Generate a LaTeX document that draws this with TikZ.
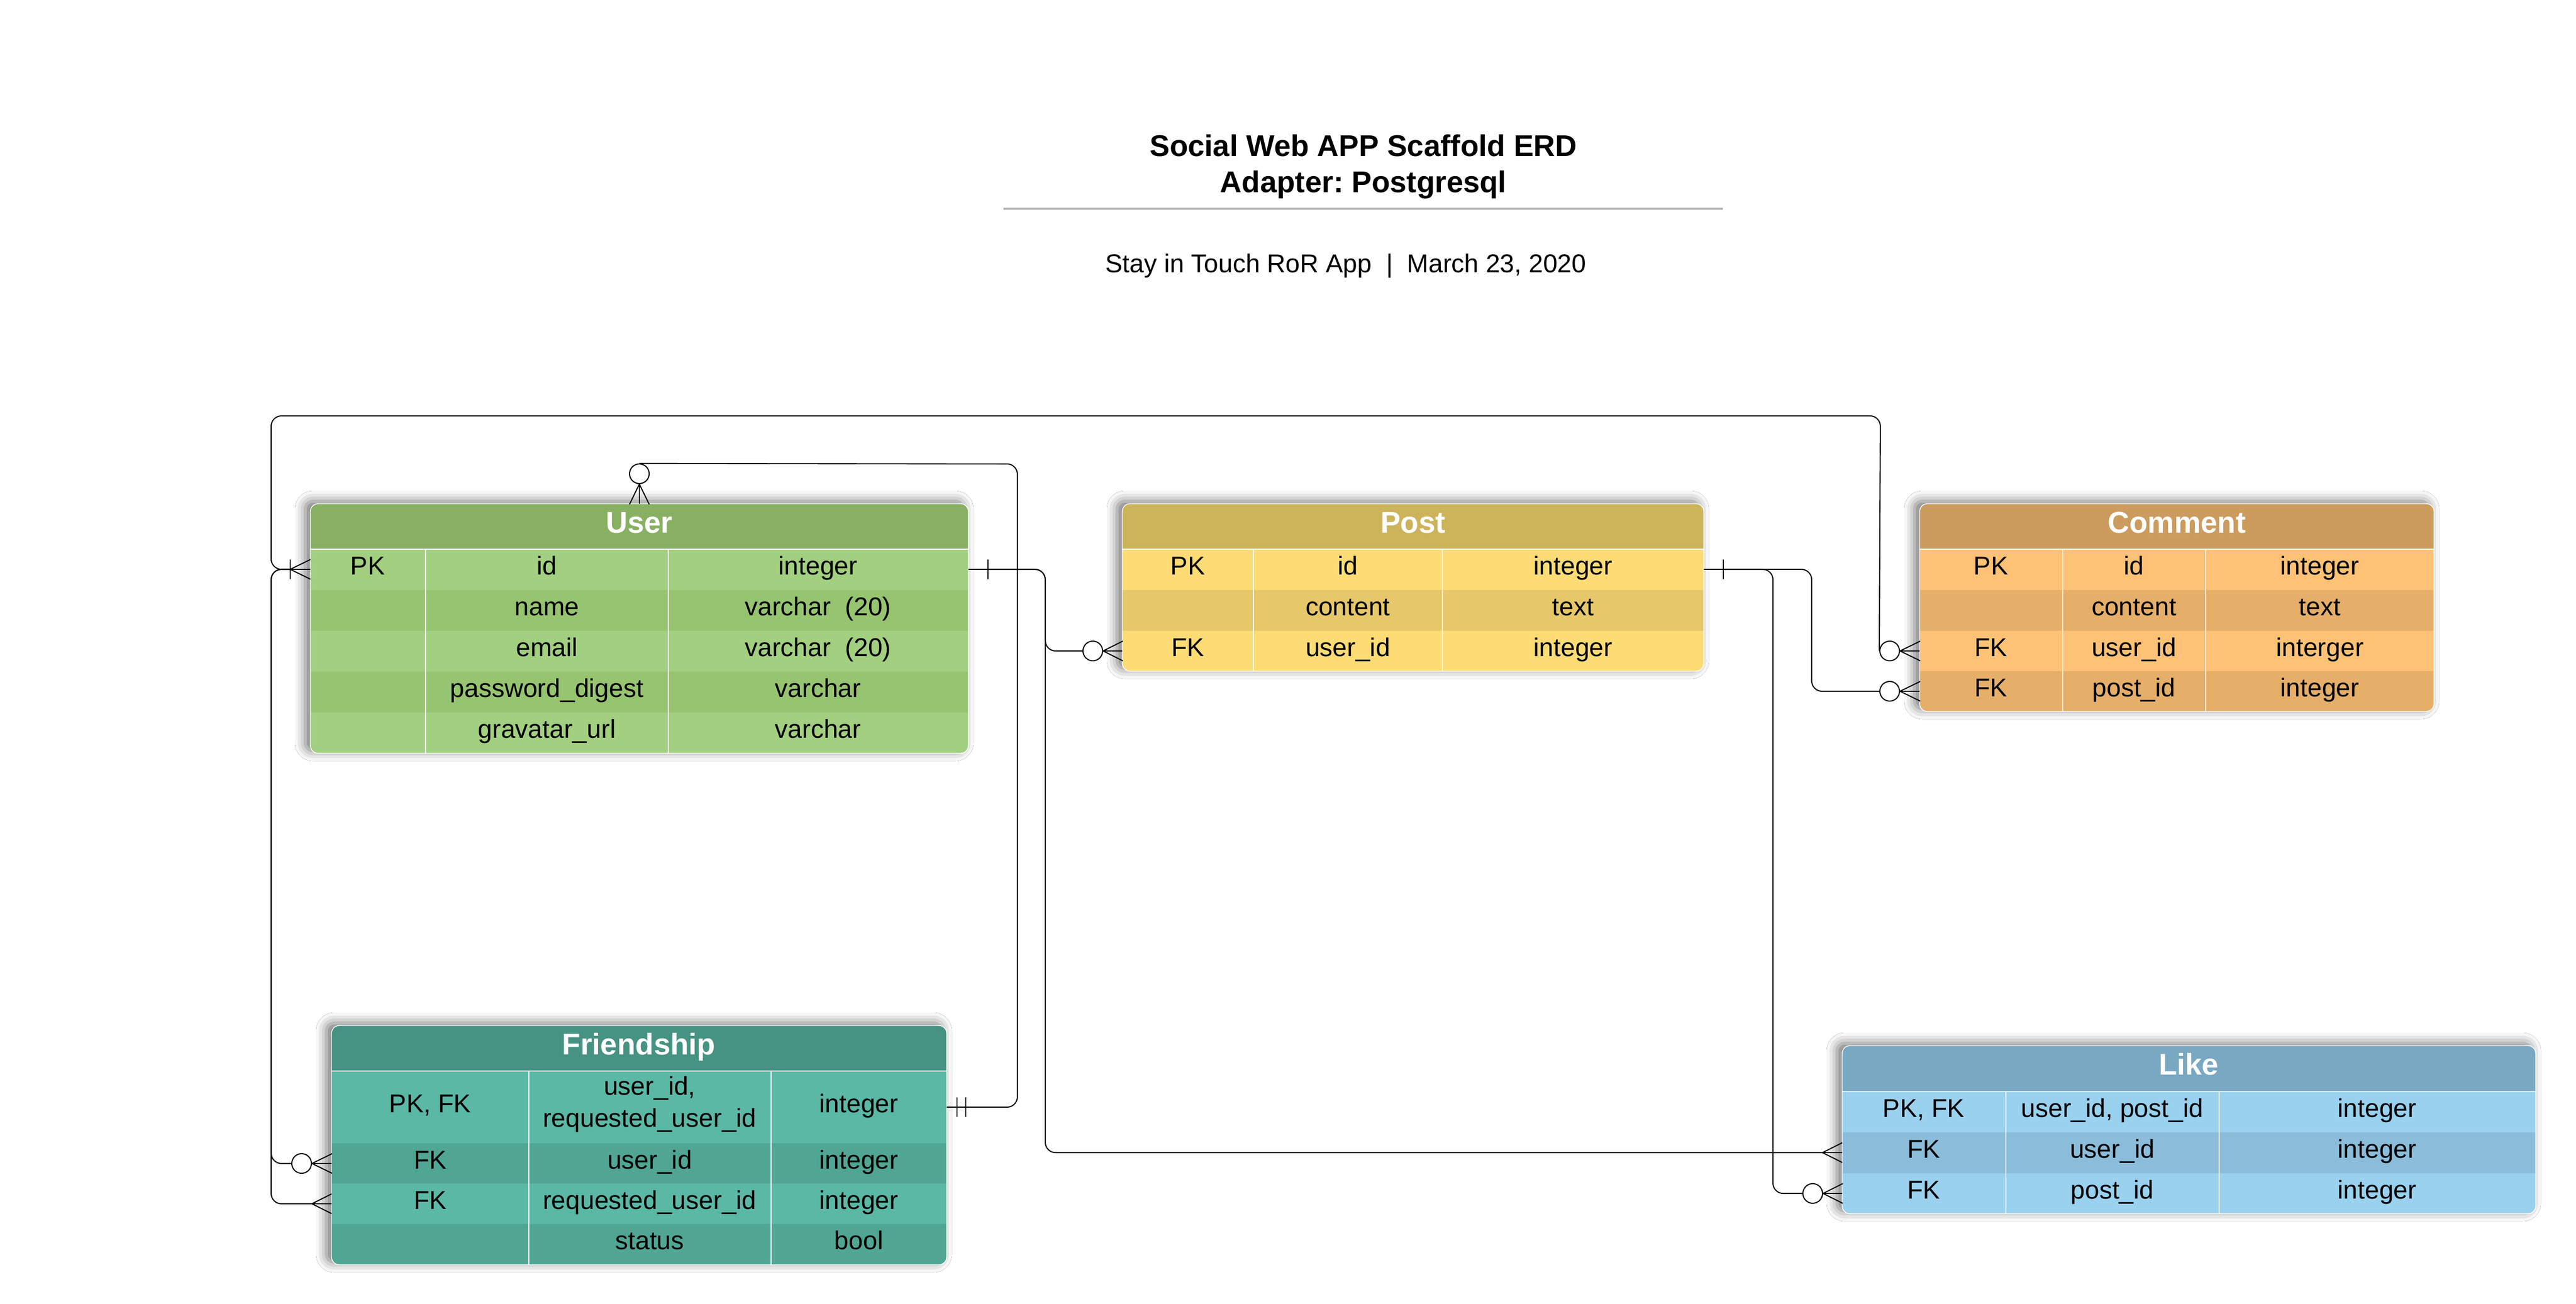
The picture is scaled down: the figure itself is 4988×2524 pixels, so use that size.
\documentclass[tikz,border=0pt]{standalone}
\usepackage{fontspec}
\setmainfont{Liberation Sans}
\usetikzlibrary{shadows.blur}
\definecolor{uHc}{HTML}{88B063}
\definecolor{uLc}{HTML}{A2CF80}
\definecolor{uDc}{HTML}{97C470}
\definecolor{pHc}{HTML}{CDB45B}
\definecolor{pLc}{HTML}{FDDC76}
\definecolor{pDc}{HTML}{E6C86A}
\definecolor{cHc}{HTML}{CB9C5D}
\definecolor{cLc}{HTML}{FDC275}
\definecolor{cDc}{HTML}{E5AF6A}
\definecolor{fHc}{HTML}{479383}
\definecolor{fLc}{HTML}{5BB8A5}
\definecolor{fDc}{HTML}{50A693}
\definecolor{kHc}{HTML}{79A8C2}
\definecolor{kLc}{HTML}{99D1EF}
\definecolor{kDc}{HTML}{8BBDDA}
\definecolor{titlerule}{HTML}{B3B3B3}
\tikzset{
  conn/.style={line width=0.6pt, rounded corners=2mm},
  stub/.style={line width=0.35pt},
  barline/.style={line width=0.4pt},
  zcirc/.style={circle, draw, line width=0.6pt, fill=white, minimum size=3.8mm, inner sep=0pt},
  cell/.style={anchor=base, inner sep=0pt, font=\fontsize{14.2}{16.5}\selectfont, text=black},
  htext/.style={anchor=base, inner sep=0pt, font=\bfseries\fontsize{16.5}{19}\selectfont, text=white},
  ttext/.style={anchor=base, inner sep=0pt, align=center, font=\bfseries\fontsize{16.5}{20.2}\selectfont},
  tshadow/.style={blur shadow={shadow xshift=-1mm, shadow yshift=0.5mm, shadow blur radius=2mm, shadow opacity=55}},
}
% #1 x1, #2 x2, #3 ytop, #4 y header bottom, #5 ybottom, #6 header colour, #7 rows ya/yb/colour
\newcommand{\erdtable}[7]{%
  \fill[tshadow, white, rounded corners=1.5mm] (#1,#3) rectangle (#2,#5);
  \begin{scope}
    \clip[rounded corners=1.5mm] (#1,#3) rectangle (#2,#5);
    \fill[fill=#6] (#1,#3) rectangle (#2,#4);
    \foreach \ya/\yb/\cc in {#7} {\fill[fill=\cc] (#1,\ya) rectangle (#2,\yb);}
  \end{scope}
  \draw[white, line width=0.6pt] (#1,#4) -- (#2,#4);
  \draw[white, line width=0.4pt, rounded corners=1.5mm] (#1,#3) rectangle (#2,#5);
}
% #1 name prefix, #2 baseline y, #3 #4 #5 column centres, #6 #7 #8 texts
\newcommand{\rowtext}[8]{%
  \node[cell] (#1a) at (#3,#2) {#6};
  \node[cell] (#1b) at (#4,#2) {#7};
  \node[cell] (#1c) at (#5,#2) {#8};
}
\frenchspacing
\begin{document}
\frenchspacing
\begin{tikzpicture}[x=0.1mm, y=-0.1mm]
\useasboundingbox (0,0) rectangle (4988,2524);
\fill[white] (0,0) rectangle (4988,2524);

% ---------- title ----------
\node[ttext] (title) at (2640,373) {Social Web APP Scaffold ERD\\Adapter: Postgresql};
\draw[titlerule, line width=1.1pt] (1943,404) -- (3336,404);
\node[cell] (subtitle) at (2606,528) {Stay in Touch RoR App\ \ |\ \ March 23, 2020};

% ---------- User ----------
\erdtable{601}{1875}{975}{1063}{1458}{uHc}{1063/1142/uLc,1142/1221/uDc,1221/1300/uLc,1300/1379/uDc,1379/1458/uLc}
\draw[white, line width=0.35pt] (824,1063) -- (824,1458) (1294,1063) -- (1294,1458);
\node[htext] (user) at (1238,1031) {User};
\rowtext{u1}{1112}{712}{1059}{1584}{PK}{id}{integer}
\rowtext{u2}{1191}{712}{1059}{1584}{}{name}{varchar\ \ (20)}
\rowtext{u3}{1270}{712}{1059}{1584}{}{email}{varchar\ \ (20)}
\rowtext{u4}{1349}{712}{1059}{1584}{}{password\_digest}{varchar}
\rowtext{u5}{1428}{712}{1059}{1584}{}{gravatar\_url}{varchar}

% ---------- Post ----------
\erdtable{2173}{3299}{975}{1063}{1299}{pHc}{1063/1142/pLc,1142/1221/pDc,1221/1299/pLc}
\draw[white, line width=0.35pt] (2427,1063) -- (2427,1299) (2793,1063) -- (2793,1299);
\node[htext] (post) at (2736,1031) {Post};
\rowtext{p1}{1112}{2300}{2610}{3046}{PK}{id}{integer}
\rowtext{p2}{1191}{2300}{2610}{3046}{}{content}{text}
\rowtext{p3}{1270}{2300}{2610}{3046}{FK}{user\_id}{integer}

% ---------- Comment ----------
\erdtable{3717}{4713}{975}{1063}{1377}{cHc}{1063/1142/cLc,1142/1221/cDc,1221/1299/cLc,1299/1377/cDc}
\draw[white, line width=0.35pt] (3994,1063) -- (3994,1377) (4271,1063) -- (4271,1377);
\node[htext] (comment) at (4215,1031) {Comment};
\rowtext{c1}{1112}{3855}{4132}{4492}{PK}{id}{integer}
\rowtext{c2}{1191}{3855}{4132}{4492}{}{content}{text}
\rowtext{c3}{1270}{3855}{4132}{4492}{FK}{user\_id}{interger}
\rowtext{c4}{1348}{3855}{4132}{4492}{FK}{post\_id}{integer}

% ---------- Friendship ----------
\erdtable{642}{1833}{1985}{2073}{2448}{fHc}{2073/2213/fLc,2213/2291/fDc,2291/2369/fLc,2369/2448/fDc}
\draw[white, line width=0.35pt] (1024,2073) -- (1024,2448) (1493,2073) -- (1493,2448);
\node[htext] (friendship) at (1237,2041) {Friendship};
\node[cell] (f1a) at (833,2153) {PK, FK};
\node[cell, align=center, font=\fontsize{14.2}{17.4}\selectfont] (f1b) at (1258,2181) {user\_id,\\requested\_user\_id};
\node[cell] (f1c) at (1663,2153) {integer};
\rowtext{f2}{2262}{833}{1258}{1663}{FK}{user\_id}{integer}
\rowtext{f3}{2340}{833}{1258}{1663}{FK}{requested\_user\_id}{integer}
\rowtext{f4}{2418}{833}{1258}{1663}{}{status}{bool}

% ---------- Like ----------
\erdtable{3567}{4910}{2024}{2113}{2349}{kHc}{2113/2192/kLc,2192/2271/kDc,2271/2349/kLc}
\draw[white, line width=0.35pt] (3884,2113) -- (3884,2349) (4297,2113) -- (4297,2349);
\node[htext] (like) at (4238,2080) {Like};
\rowtext{k1}{2162}{3725}{4090}{4603}{PK, FK}{user\_id, post\_id}{integer}
\rowtext{k2}{2241}{3725}{4090}{4603}{FK}{user\_id}{integer}
\rowtext{k3}{2320}{3725}{4090}{4603}{FK}{post\_id}{integer}

% ---------- connector end points ----------
\coordinate (uIdE) at (1875,1102);
\coordinate (uIdW) at (601,1102);
\coordinate (uTop) at (1238,975);
\coordinate (uBar) at (1913,1102);
\coordinate (uApex) at (562,1102);
\coordinate (pIdE) at (3299,1102);
\coordinate (pBar) at (3337,1102);
\coordinate (pUidW) at (2173,1260);
\coordinate (cUidW) at (3717,1260);
\coordinate (cPidW) at (3717,1338);
\coordinate (fPkE) at (1833,2143);
\coordinate (fUidW) at (642,2252);
\coordinate (fRuidW) at (642,2330);
\coordinate (fRuidA) at (604,2330);
\coordinate (kUidW) at (3567,2231);
\coordinate (kUidA) at (3529,2231);
\coordinate (kPidW) at (3567,2310);

\node[zcirc] (oPost) at (2116,1260) {};
\node[zcirc] (oCu) at (3659,1260) {};
\node[zcirc] (oCp) at (3659,1338) {};
\node[zcirc] (oKp) at (3510,2310) {};
\node[zcirc] (oFu) at (584,2252) {};
\node[zcirc] (oUt) at (1238,917) {};

% User.id -> Post.user_id and Like.user_id
\draw[stub] (uIdE) -- (uBar);
\draw[barline] (uBar) ++(0,-19) -- ++(0,38);
\draw[conn] (uBar) -- (2024,1102) -- (2024,1260) -- (oPost.west);
\draw[conn] (uBar) -- (2024,1102) -- (2024,2231) -- (kUidA);
\draw[conn] (oPost.east) -- ++(38,-19) (oPost.east) -- ++(38,19);
\draw[stub] (oPost.east) -- (pUidW);
\draw[conn] (kUidA) -- ++(38,-19) (kUidA) -- ++(38,19);
\draw[stub] (kUidA) -- (kUidW);

% Post.id -> Comment.post_id and Like.post_id
\draw[stub] (pIdE) -- (pBar);
\draw[barline] (pBar) ++(0,-19) -- ++(0,38);
\draw[conn] (pBar) -- (3508,1102) -- (3508,1338) -- (oCp.west);
\draw[conn] (pBar) -- (3433,1102) -- (3433,2310) -- (oKp.west);
\draw[conn] (oCp.east) -- ++(39,-19) (oCp.east) -- ++(39,19);
\draw[stub] (oCp.east) -- (cPidW);
\draw[conn] (oKp.east) -- ++(38,-19) (oKp.east) -- ++(38,19);
\draw[stub] (oKp.east) -- (kPidW);

% User.id (left) -> Comment.user_id and Friendship
\draw[conn] (uApex) -- ++(39,-19) (uApex) -- ++(39,19);
\draw[stub] (uApex) -- (uIdW);
\draw[barline] (uApex) ++(0,-19) -- ++(0,38);
\draw[conn] (uApex) -- (525,1102) -- (525,805) -- (3641,805) -- (oCu.west);
\draw[conn] (oCu.east) -- ++(39,-19) (oCu.east) -- ++(39,19);
\draw[stub] (oCu.east) -- (cUidW);
\draw[conn] (uApex) -- (525,1102) -- (525,2252) -- (oFu.west);
\draw[conn] (uApex) -- (525,1102) -- (525,2330) -- (fRuidA);
\draw[conn] (oFu.east) -- ++(39,-19) (oFu.east) -- ++(39,19);
\draw[stub] (oFu.east) -- (fUidW);
\draw[conn] (fRuidA) -- ++(38,-19) (fRuidA) -- ++(38,19);
\draw[stub] (fRuidA) -- (fRuidW);

% User top -> Friendship PK
\draw[conn] (oUt.south) -- ++(-19,39) (oUt.south) -- ++(19,39);
\draw[stub] (oUt.south) -- (uTop);
\draw[conn] (oUt.north) -- (1970,898) -- (1970,2143) -- (fPkE);
\draw[barline] (1853,2124) -- (1853,2162) (1870,2124) -- (1870,2162);
\end{tikzpicture}
\end{document}
